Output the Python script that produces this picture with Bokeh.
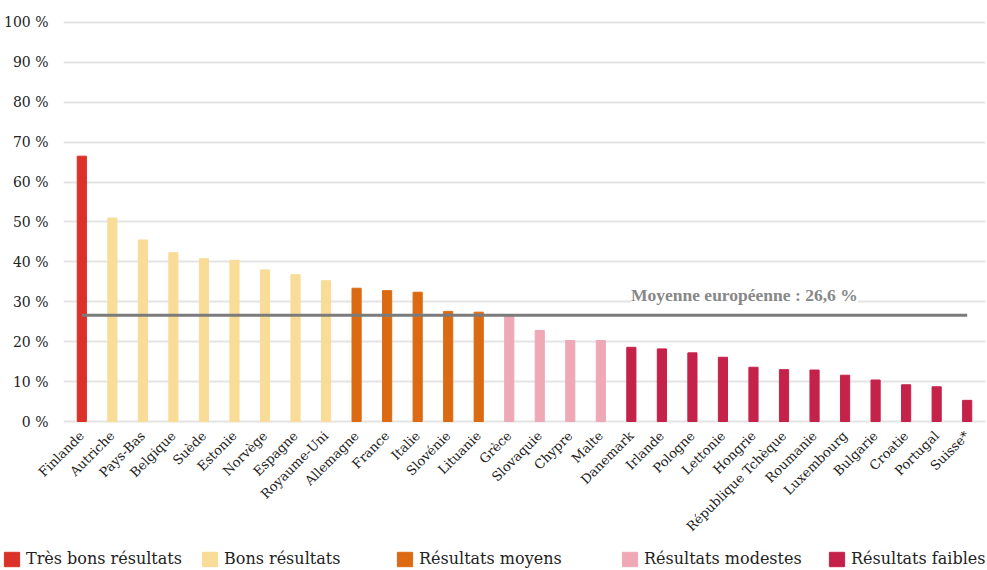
from bokeh.plotting import figure
from bokeh.layouts import column
from bokeh.models import (ColumnDataSource, Range1d, FactorRange, Legend, LegendItem,
                          Label, FixedTicker)
from bokeh.embed import file_html
from bokeh.resources import INLINE
import math

countries = ["Finlande", "Autriche", "Pays-Bas", "Belgique", "Suède", "Estonie", "Norvège",
             "Espagne", "Royaume-Uni", "Allemagne", "France", "Italie", "Slovénie", "Lituanie",
             "Grèce", "Slovaquie", "Chypre", "Malte", "Danemark", "Irlande", "Pologne",
             "Lettonie", "Hongrie", "République Tchèque", "Roumanie", "Luxembourg", "Bulgarie",
             "Croatie", "Portugal", "Suisse*"]
values = [66.5, 51.0, 45.5, 42.3, 40.8, 40.4, 38.0, 36.8, 35.3, 33.4, 32.8, 32.4, 27.6, 27.4,
          26.5, 22.8, 20.3, 20.3, 18.6, 18.2, 17.2, 16.1, 13.6, 13.0, 12.9, 11.6, 10.4, 9.2,
          8.7, 5.3]
group_index = [0, 1, 1, 1, 1, 1, 1, 1, 1, 2, 2, 2, 2, 2, 3, 3, 3, 3,
               4, 4, 4, 4, 4, 4, 4, 4, 4, 4, 4, 4]
group_names = ["Très bons résultats", "Bons résultats", "Résultats moyens",
               "Résultats modestes", "Résultats faibles"]
group_colors = ["#db3128", "#f8dc98", "#dc6a12", "#eea8b6", "#c5224a"]
y_ticks = [0, 10, 20, 30, 40, 50, 60, 70, 80, 90, 100]
mean_value = 26.6
mean_label = "Moyenne européenne : 26,6 %"

source = ColumnDataSource(dict(
    country=countries,
    value=values,
    group=[group_names[g] for g in group_index],
    color=[group_colors[g] for g in group_index],
))

p = figure(
    x_range=FactorRange(*countries, range_padding=0.1, range_padding_units="absolute"),
    y_range=Range1d(-0.5, 101),
    frame_width=922, frame_height=405,
    min_border_left=63, min_border_right=2, min_border_top=18, min_border_bottom=122,
    output_backend="svg", toolbar_location=None,
)
p.frame_align = False
p.outline_line_color = None
p.background_fill_color = "white"

bars = p.vbar(x="country", top="value", width=0.3, source=source,
              fill_color="color", line_color="color")

p.line(x=[countries[0], countries[-1]], y=[mean_value, mean_value],
       line_color="#7b7b7b", line_width=3)

p.add_layout(Label(x=countries.index("Hongrie") + 0.2, y=mean_value + 5, text=mean_label,
                   text_align="center", text_baseline="middle",
                   text_font="Liberation Serif", text_font_style="bold",
                   text_font_size="17.5px", text_color="#888888",
                   background_fill_color="white", background_fill_alpha=1.0))

# grid
p.xgrid.grid_line_color = None
p.ygrid.ticker = FixedTicker(ticks=y_ticks)
p.ygrid.grid_line_color = "#e4e4e4"
p.ygrid.grid_line_width = 2

# y axis
p.yaxis.ticker = FixedTicker(ticks=y_ticks)
p.yaxis.major_label_overrides = {t: f"{t} %" for t in y_ticks}
p.yaxis.axis_line_color = None
p.yaxis.major_tick_line_color = None
p.yaxis.minor_tick_line_color = None
p.yaxis.major_label_standoff = 9
p.yaxis.major_label_text_font = "DejaVu Serif"
p.yaxis.major_label_text_font_size = "14px"
p.yaxis.major_label_text_color = "#222222"

# x axis
p.xaxis.axis_line_color = None
p.xaxis.major_tick_line_color = None
p.xaxis.minor_tick_line_color = None
p.xaxis.major_label_orientation = math.pi / 4
p.xaxis.major_label_standoff = 4
p.xaxis.major_label_text_font = "DejaVu Serif"
p.xaxis.major_label_text_font_size = "13px"
p.xaxis.major_label_text_color = "#222222"

# legend strip below the chart (bars there are kept out of view; only the legend shows)
lg = figure(width=987, height=24, x_range=FactorRange(*countries), y_range=Range1d(1000, 1001),
            x_axis_location=None, y_axis_location=None, min_border=0,
            output_backend="svg", toolbar_location=None)
lg.frame_align = False
lg.outline_line_color = None
lg.xgrid.grid_line_color = None
lg.ygrid.grid_line_color = None
lg_bars = lg.vbar(x="country", top="value", width=0.3, source=source,
                  fill_color="color", line_color="color")

first_idx = [group_index.index(g) for g in range(len(group_names))]
legend_x = [2, 200, 395, 620, 827]
for g, lx in enumerate(legend_x):
    lg.add_layout(Legend(items=[LegendItem(label=group_names[g], renderers=[lg_bars],
                                           index=first_idx[g])],
                         location=(lx, 1), orientation="horizontal",
                         glyph_width=19, glyph_height=18, label_standoff=5,
                         padding=0, margin=0, border_line_color=None,
                         background_fill_alpha=0,
                         label_text_font="DejaVu Serif", label_text_font_size="16px",
                         label_text_color="#222222"), "center")

layout = column(p, lg, spacing=0)
open("out.html", "w").write(file_html(layout, INLINE))
